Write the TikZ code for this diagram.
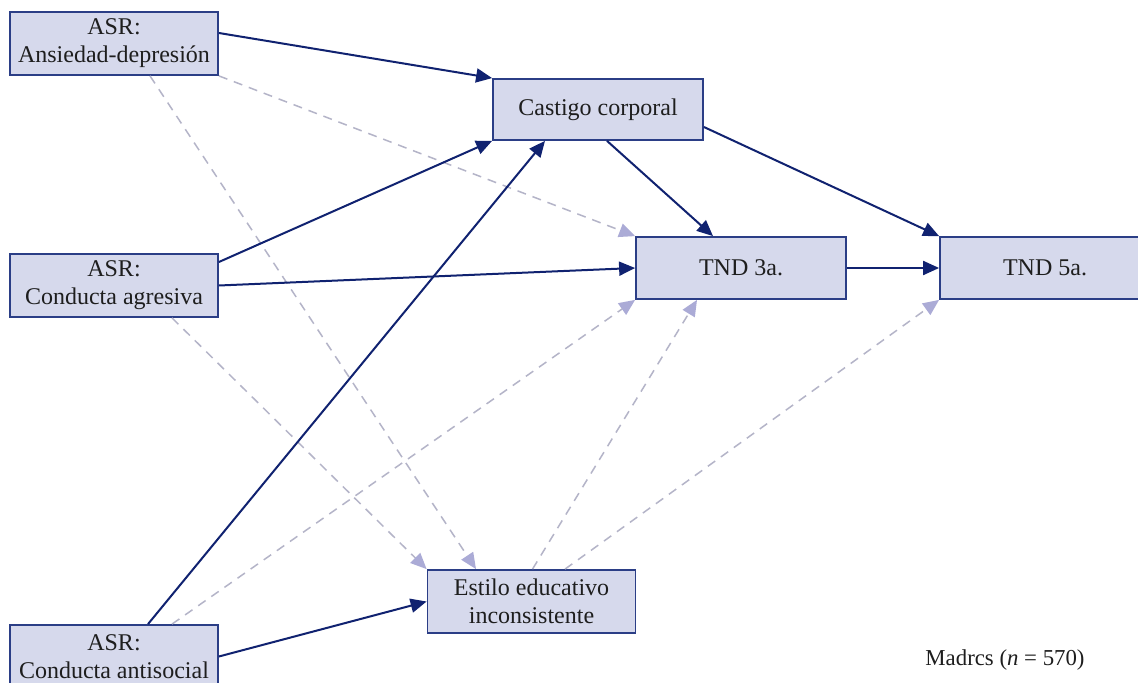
\documentclass[tikz,border=0pt]{standalone}
\usepackage{fontspec}
\setmainfont{Liberation Serif}
\usetikzlibrary{arrows.meta}

\definecolor{boxfill}{RGB}{214,217,236}
\definecolor{boxline}{RGB}{43,62,134}
\definecolor{pathcol}{RGB}{16,34,112}
\definecolor{nulline}{RGB}{180,180,200}
\definecolor{nultip}{RGB}{171,171,214}
\definecolor{labeltext}{RGB}{30,30,30}

\tikzset{
  var/.style={draw=boxline, line width=0.9pt, fill=boxfill, text=labeltext,
    align=center, inner sep=0pt, minimum width=104pt, minimum height=31.5pt,
    font=\fontsize{12}{14}\selectfont},
  sig/.style={draw=pathcol, line width=1pt,
    -{Triangle[length=8pt, width=7pt, color=pathcol]}},
  nonsig/.style={draw=nulline, line width=0.75pt, dash pattern=on 4.5pt off 3.5pt,
    -{Triangle[length=8pt, width=7pt, color=nultip]}}
}

\begin{document}
\begin{tikzpicture}[x=0.5pt, y=-0.5pt]
  \useasboundingbox (0,0) rectangle (1138,683);
  \clip (0,0) rectangle (1138,683);
  \fill[white] (0,0) rectangle (1138,683);

  % variables
  \node[var] (anx)  at (114,43.5)  {ASR:\\Ansiedad-depresión};
  \node[var, minimum width=105pt, minimum height=30.5pt] (cast) at (598,109.5) {Castigo corporal};
  \node[var] (agr)  at (114,285.5) {ASR:\\Conducta agresiva};
  \node[var, minimum width=105pt, minimum height=31pt] (tnd3) at (741,268) {TND 3a.};
  \node[var, minimum width=105pt, minimum height=31pt] (tnd5) at (1045,268) {TND 5a.};
  \node[var] (est)  at (531.5,601.5) {Estilo educativo\\inconsistente};
  \node[var] (ant)  at (114,656.5) {ASR:\\Conducta antisocial};

  % non-significant paths
  \draw[nonsig] (anx.south east) -- (tnd3.north west);
  \draw[nonsig] ([xshift=18pt]anx.south) -- ([xshift=-27.75pt]est.north);
  \draw[nonsig] ([xshift=29pt]agr.south) -- (est.north west);
  \draw[nonsig] ([xshift=29pt]ant.north) -- (tnd3.south west);
  \draw[nonsig] ([xshift=0.5pt]est.north) -- ([xshift=-22pt]tnd3.south);
  \draw[nonsig] ([xshift=16.75pt]est.north) -- (tnd5.south west);

  % significant paths
  \draw[sig] ([yshift=5.25pt]anx.east) -- (cast.north west);
  \draw[sig] ([yshift=11.75pt]agr.east) -- (cast.south west);
  \draw[sig] ([xshift=17pt]ant.north) -- ([xshift=-26.5pt]cast.south);
  \draw[sig] (agr.east) -- (tnd3.west);
  \draw[sig] (ant.east) -- (est.west);
  \draw[sig] ([xshift=4.5pt]cast.south) -- ([xshift=-14pt]tnd3.north);
  \draw[sig] ([yshift=-8.75pt]cast.east) -- (tnd5.north west);
  \draw[sig] (tnd3.east) -- (tnd5.west);

  % sample note
  \node[text=labeltext, font=\fontsize{11.4}{13}\selectfont] (note) at (1005,660)
    {Madrcs (\textit{n} = 570)};
\end{tikzpicture}
\end{document}
